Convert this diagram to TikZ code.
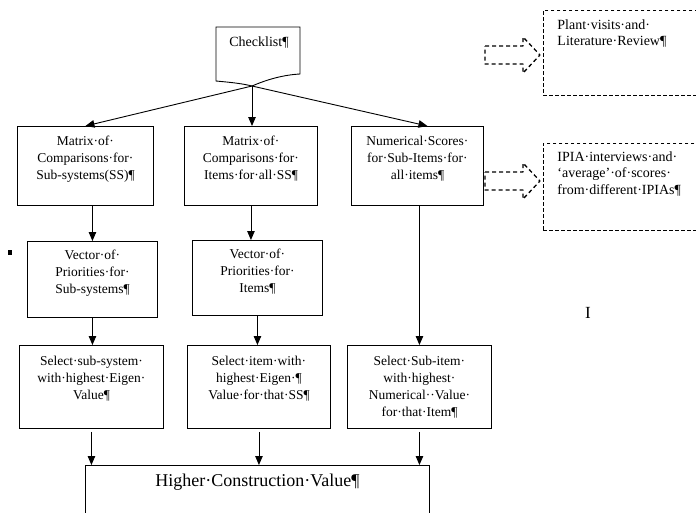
\documentclass[tikz,border=0pt]{standalone}
\usepackage{fontspec}
\setmainfont{Liberation Serif}
\usetikzlibrary{positioning, calc, arrows.meta}

\begin{document}
\begin{tikzpicture}[x=1pt, y=-1pt, >={Triangle[length=9pt,width=7.5pt]}, line width=0.9pt,
  every node/.style={font=\fontsize{13.5}{17}\selectfont},
  box/.style={draw, anchor=north west, inner sep=0pt},
  txt/.style={align=center, inner sep=0pt},
  note/.style={draw, dash pattern=on 3.5pt off 2.5pt, anchor=north west, inner sep=0pt},
  notetxt/.style={align=left, inner sep=0pt, anchor=north west, font=\fontsize{14}{16.5}\selectfont}]

\clip (0,0) rectangle (696,512);

\draw (216,27) -- (300,27) -- (300,74) .. controls (282,75) and (266,80) .. (252,86)
  .. controls (240,83) and (226,82) .. (216,81) -- cycle;
\coordinate (chk) at (252,86);
\node[txt, font=\fontsize{14}{17}\selectfont] (checklist) at (259,43) {Checklist¶};

\node[box, minimum width=136, minimum height=79] (mat1) at (17,126) {};
\node[box, minimum width=133, minimum height=79] (mat2) at (184,126) {};
\node[box, minimum width=132, minimum height=79] (mat3) at (351,126) {};
\node[box, minimum width=130, minimum height=76] (vec1) at (27,241) {};
\node[box, minimum width=130, minimum height=75] (vec2) at (192,240) {};
\node[box, minimum width=144, minimum height=83] (sel1) at (19,345) {};
\node[box, minimum width=143, minimum height=83] (sel2) at (187,345) {};
\node[box, minimum width=144, minimum height=83] (sel3) at (347,345) {};
\node[box, minimum width=344, minimum height=70] (hcv) at (85,465) {};

\node[txt, below=10pt of mat1.north] (mat1t) {Matrix·of·\\Comparisons·for·\\Sub-systems(SS)¶};
\node[txt, below=10pt of mat2.north] (mat2t) {Matrix·of·\\Comparisons·for·\\Items·for·all·SS¶};
\node[txt, below=10pt of mat3.north] (mat3t) {Numerical·Scores·\\for·Sub-Items·for·\\all·items¶};
\node[txt, below=9pt of vec1.north] (vec1t) {Vector·of·\\Priorities·for·\\Sub-systems¶};
\node[txt, below=9pt of vec2.north] (vec2t) {Vector·of·\\Priorities·for·\\Items¶};
\node[txt, below=11pt of sel1.north] (sel1t) {Select·sub-system·\\with·highest·Eigen·\\Value¶};
\node[txt, below=11pt of sel2.north] (sel2t) {Select·item·with·\\highest·Eigen·¶\\Value·for·that·SS¶};
\node[txt, below=11pt of sel3.north] (sel3t) {Select·Sub-item·\\with·highest·\\Numerical··Value·\\for·that·Item¶};
\node[txt, font=\fontsize{18}{20}\selectfont, below=9pt of hcv.north] (hcvt) {Higher·Construction·Value¶};

\node[note, minimum width=170, minimum height=85] (plant) at (543,10) {};
\node[notetxt] (plantt) at (557,19) {Plant·visits·and·\\Literature·Review¶};
\node[note, minimum width=170, minimum height=87] (ipia) at (543,143) {};
\node[notetxt] (ipiat) at (557,151) {IPIA·interviews·and·\\‘average’·of·scores·\\from·different·IPIAs¶};

\foreach \c in {55,181}
  \draw[line width=1.3pt, dash pattern=on 4pt off 3pt, line join=round]
    (485,\c-9) -- (523,\c-9) -- (523,\c-18) -- (540,\c)
    -- (523,\c+18) -- (523,\c+9) -- (485,\c+9) -- cycle;

\draw[->] (chk) -- (mat1.north);
\draw[->] (chk) -- (chk |- mat2.north);
\draw[->] (chk) -- ([xshift=10pt]mat3.north);
\draw[->] (mat1.south -| vec1.north) -- (vec1.north);
\draw[->] (mat2.south) -- (mat2.south |- vec2.north);
\draw[->] (mat3.south -| sel3.north) -- (sel3.north);
\draw[->] (vec1.south) -- (vec1.south |- sel1.north);
\draw[->] (vec2.south) -- (vec2.south |- sel2.north);
\draw[->] ([yshift=-3pt]sel1.south) -- (sel1.south |- hcv.north);
\draw[->] ([yshift=-3pt]sel2.south) -- (sel2.south |- hcv.north);
\draw[->] ([yshift=-3pt]sel3.south) -- (sel3.south |- hcv.north);

\fill (8,250) rectangle (12,255);
\node[inner sep=0pt, anchor=north, font=\fontsize{17}{17}\selectfont] (cursor) at (588,307) {I};

\end{tikzpicture}
\end{document}
